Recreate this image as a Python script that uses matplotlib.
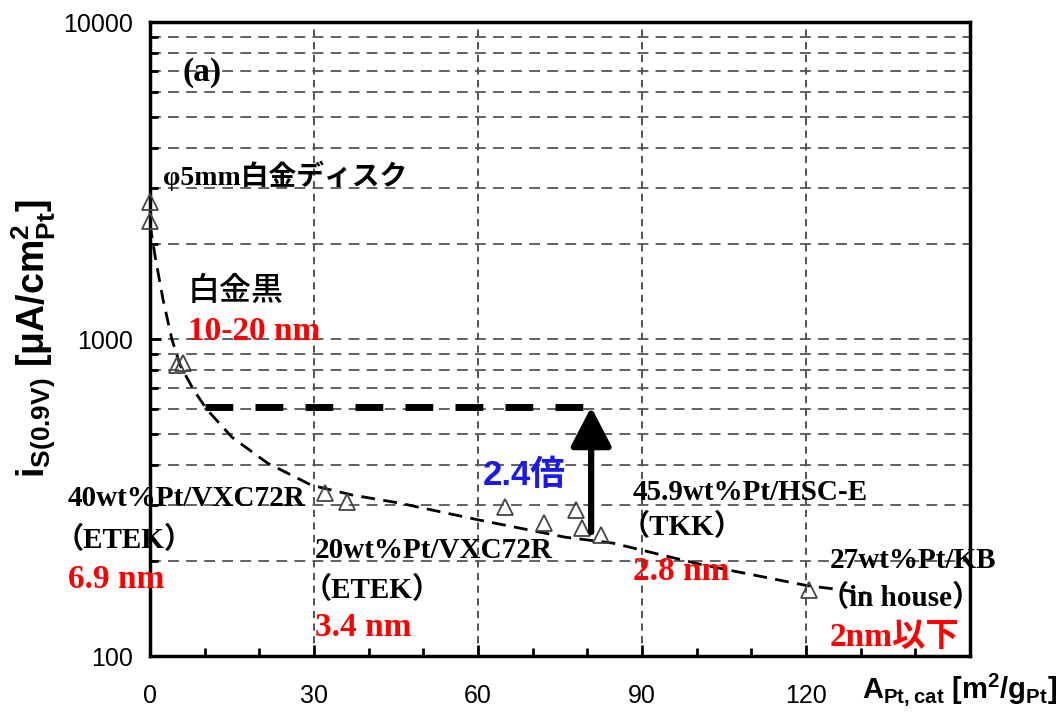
import matplotlib
matplotlib.use('Agg')
import matplotlib.pyplot as plt
import numpy as np
from matplotlib.ticker import MultipleLocator, LogLocator, NullFormatter, FixedLocator

plt.rcParams['font.family'] = ['Liberation Sans', 'Noto Sans CJK JP']
plt.rcParams['mathtext.default'] = 'regular'

# measured points (open triangles)
area = [0, 0, 5, 6, 32, 36, 65, 72, 78, 79, 82.5, 120.5]
current = [2700, 2350, 830, 840, 327, 306, 295, 263, 289, 253, 241, 161]

# dashed guide curve
fit_x = [0, 1, 2.4, 4, 5.5, 8, 10.5, 15, 21.5, 29.5, 37, 45.5, 60, 76, 84.7, 101, 120, 131]
fit_y = [2300, 1800, 1330, 1000, 828, 690, 597, 490, 406, 346, 322, 304, 269, 237, 227, 194, 167, 158]

# comparison line and arrow
ref_x = [10, 80]
ref_y = 610
arrow_x = 80.7
arrow_from = 246

yticks = [100, 1000, 10000]
xticks = [0, 30, 60, 90, 120]

fig = plt.figure(figsize=(10.62, 7.19), dpi=100)
ax = fig.add_axes([0.1412, 0.0876, 0.7722, 0.8818])

ax.set_yscale('log')
ax.set_xlim(0, 150)
ax.set_ylim(100, 10000)

ax.plot(fit_x, fit_y, color='black', ls=(0, (5, 3)), lw=2, zorder=3)
ax.plot(area, current, ls='none', marker='^', ms=12, mfc='none', mec='#444444', mew=1.3, zorder=4, clip_on=False)

ax.plot(ref_x, [ref_y, ref_y], color='black', lw=5, ls=(0, (4, 3.2)), zorder=5)
ax.annotate('', xy=(arrow_x, ref_y), xytext=(arrow_x, arrow_from),
            arrowprops=dict(arrowstyle='-|>,head_width=1.25,head_length=2.4', color='black', lw=4.5,
                            shrinkA=0, shrinkB=0), zorder=6)

# grid
ax.xaxis.set_major_locator(FixedLocator(xticks))
ax.xaxis.set_minor_locator(MultipleLocator(10))
ax.yaxis.set_major_locator(FixedLocator(yticks))
ax.set_yticklabels([str(t) for t in yticks])
ax.yaxis.set_minor_locator(LogLocator(base=10, subs=np.arange(2, 10)))
ax.yaxis.set_minor_formatter(NullFormatter())
ax.set_xticklabels([str(t) for t in xticks])
ax.grid(True, which='major', axis='x', color='#444444', ls=(0, (4, 3)), lw=1.3)
ax.grid(True, which='both', axis='y', color='#555555', ls=(0, (6, 4)), lw=1.3)

for s in ax.spines.values():
    s.set_linewidth(2.5)

ax.tick_params(which='major', direction='in', length=8, width=2, labelsize=18, top=False, right=False)
ax.tick_params(which='minor', direction='in', length=6, width=2, top=False, right=False)
ax.tick_params(axis='x', pad=20)
ax.tick_params(axis='y', pad=12)

ax.set_ylabel(r'i$_{S(0.9V)}$ [μA/cm$^{2}_{Pt}$]', fontsize=27, fontweight='bold', labelpad=4)
fig.text(0.812, 0.040, r'A$_{Pt,cat}$ [m$^{2}$/g$_{Pt}$]', fontsize=21, fontweight='bold', va='center', ha='left')

serif = ['Liberation Serif', 'Noto Sans CJK JP']

def label(x, y, s, color='black', size=21, weight='bold', family=serif):
    fig.text(x / 1062, 1 - y / 719, s, color=color, fontsize=size, fontweight=weight,
             family=family, ha='left', va='center')

label(183, 72, '(a)', size=24)
label(163, 176, 'φ5mm白金ディスク', size=20)
label(188, 291, '白金黒', size=23, weight='medium', family=['Noto Sans CJK JP'])
label(188, 332, '10-20 nm', color='red', size=24)
label(68, 498, '40wt%Pt/VXC72R')
label(55, 540, '（ETEK）')
label(68, 580, '6.9 nm', color='red', size=24)
label(315, 550, '20wt%Pt/VXC72R')
label(303, 590, '（ETEK）')
label(315, 627, '3.4 nm', color='red', size=24)
label(483, 475, '2.4倍', color='#1a1aee', size=25, family=['Liberation Sans', 'Noto Sans CJK JP'])
label(633, 493, '45.9wt%Pt/HSC-E')
label(621, 527, '（TKK）')
label(633, 571, '2.8 nm', color='red', size=24)
label(830, 560, '27wt%Pt/KB')
label(820, 598, '（in house）')
label(830, 637, '2nm以下', color='red', size=24)

fig.savefig('out.png', dpi=100)
